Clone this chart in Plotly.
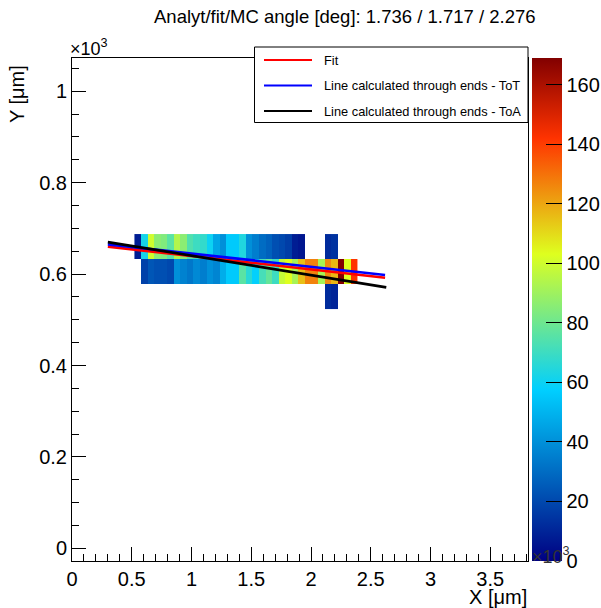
import plotly.graph_objects as go

# ---------------- data (µm; pixel pitch 55 µm) ----------------
PITCH_UM = 55.0
title_text = "Analyt/fit/MC angle [deg]: 1.736 / 1.717 / 2.276"

# row index (y = row*pitch), column indices, and counts per cell
row12_cols = list(range(10, 36)) + [39, 40]
row12_vals = [8, 62, 100, 86, 84, 76, 94, 86, 74, 70, 68, 60, 46, 40, 56, 56, 64,
              40, 35, 30, 27, 22, 20, 17, 8, 6, 12, 14]
row11_cols = list(range(11, 44))
row11_vals = [18, 24, 22, 22, 20, 40, 36, 33, 38, 35, 40, 37, 48, 56, 56, 76, 66,
              58, 72, 78, 70, 98, 103, 92, 115, 127, 127, 92, 125, 117, 169, 103, 142]
row10_cols = [39, 40]
row10_vals = [12, 10]

# straight lines (µm)
fit_x = [300, 2620]
fit_y = [660, 592]
tot_x = [300, 2620]
tot_y = [665, 598]
toa_x = [300, 2630]
toa_y = [670, 571]

legend_names = ["Fit", "Line calculated through ends - ToT", "Line calculated through ends - ToA"]
legend_colors = ["#ff0000", "#0000ff", "#000000"]

z_max = 169
cbar_ticks = [0, 20, 40, 60, 80, 100, 120, 140, 160]
x_ticks = [0, 0.5, 1, 1.5, 2, 2.5, 3, 3.5]
y_ticks = [0, 0.2, 0.4, 0.6, 0.8, 1]

# ---------------- build grid ----------------
rows = {12: (row12_cols, row12_vals), 11: (row11_cols, row11_vals), 10: (row10_cols, row10_vals)}
all_cols = sorted(set(row12_cols + row11_cols + row10_cols))
col_min, col_max = min(all_cols), max(all_cols)
col_idx = list(range(col_min, col_max + 1))
row_idx = sorted(rows.keys())
xs = [c * PITCH_UM / 1000 for c in col_idx]
ys = [r * PITCH_UM / 1000 for r in row_idx]
z = []
for r in row_idx:
    cols, vals = rows[r]
    lut = dict(zip(cols, vals))
    z.append([lut.get(c, None) for c in col_idx])

# ROOT-like rainbow palette
cscale = [
    [0.00, "rgb(0,0,130)"],
    [0.34, "rgb(0,207,255)"],
    [0.61, "rgb(222,255,31)"],
    [0.84, "rgb(255,51,0)"],
    [1.00, "rgb(130,0,0)"],
]

FONT = "Liberation Sans, Arial, Helvetica, sans-serif"
TICK_SIZE = 20

W, H = 601, 608
L, R, T, B = 72, 528, 58, 561  # frame in pixels


def px(xp):
    return (xp - L) / (R - L)


def py(yp):
    return (B - yp) / (B - T)


fig = go.Figure()
fig.add_trace(go.Heatmap(
    x=xs, y=ys, z=z, zmin=0, zmax=z_max, colorscale=cscale,
    hoverongaps=False, showscale=True,
    colorbar=dict(
        x=px(531.5), xanchor="left", xpad=0, ypad=0,
        y=0.5, yanchor="middle", len=1, lenmode="fraction",
        thickness=30, thicknessmode="pixels",
        outlinewidth=0,
        ticks="inside", ticklen=16, tickcolor="black", tickwidth=1,
        tickvals=cbar_ticks,
        tickfont=dict(family=FONT, size=TICK_SIZE, color="black"),
    ),
))

for lx, ly, name, col in [(fit_x, fit_y, legend_names[0], legend_colors[0]),
                           (tot_x, tot_y, legend_names[1], legend_colors[1]),
                           (toa_x, toa_y, legend_names[2], legend_colors[2])]:
    fig.add_trace(go.Scatter(
        x=[v / 1000 for v in lx], y=[v / 1000 for v in ly], mode="lines",
        line=dict(color=col, width=2.7), name=name, showlegend=False,
    ))

shapes = []
annotations = []

# legend box
shapes.append(dict(type="rect", xref="paper", yref="paper",
                   x0=px(254.5), x1=px(528), y0=py(122.5), y1=py(47),
                   line=dict(color="black", width=1), fillcolor="white", layer="above"))
for i, (name, col) in enumerate(zip(legend_names, legend_colors)):
    yy = [60, 85.5, 111][i]
    shapes.append(dict(type="line", xref="paper", yref="paper",
                       x0=px(264), x1=px(312), y0=py(yy), y1=py(yy),
                       line=dict(color=col, width=2), layer="above"))
    annotations.append(dict(text=name, xref="paper", yref="paper",
                            x=px(321.5), y=py(yy), xanchor="left", yanchor="middle",
                            showarrow=False, font=dict(family=FONT, size=12.8, color="black")))

# title
annotations.append(dict(text=title_text, xref="paper", yref="paper",
                        x=px(344.5), y=py(17), xanchor="center", yanchor="middle",
                        showarrow=False, font=dict(family=FONT, size=18.5, color="black")))
# axis titles
annotations.append(dict(text="Y [μm]", xref="paper", yref="paper",
                        x=px(17), y=py(63), xanchor="center", yanchor="top", textangle=-90,
                        showarrow=False, font=dict(family=FONT, size=20, color="black")))
annotations.append(dict(text="X [μm]", xref="paper", yref="paper",
                        x=px(529), y=py(597), xanchor="right", yanchor="middle",
                        showarrow=False, font=dict(family=FONT, size=20, color="black")))
# exponent labels
annotations.append(dict(text="×10<sup>3</sup>", xref="paper", yref="paper",
                        x=px(68), y=py(61), xanchor="left", yanchor="bottom",
                        showarrow=False, font=dict(family=FONT, size=18, color="black")))
annotations.append(dict(text="×10<sup>3</sup>", xref="paper", yref="paper",
                        x=px(530), y=py(569), xanchor="left", yanchor="bottom",
                        showarrow=False, font=dict(family=FONT, size=18, color="#333333")))

fig.update_layout(
    width=W, height=H,
    margin=dict(l=L, r=W - R, t=T, b=H - B, pad=0, autoexpand=False),
    paper_bgcolor="white", plot_bgcolor="white",
    font=dict(family=FONT, size=18, color="black"),
    showlegend=False,
    shapes=shapes, annotations=annotations,
    xaxis=dict(range=[0, (R - L) / 119.5], tickvals=x_ticks, ticks="inside", ticklen=14,
               automargin=False,
               tickcolor="black", tickwidth=1, showline=True, linecolor="black", linewidth=1,
               mirror=True, showgrid=False, zeroline=False,
               tickfont=dict(family=FONT, size=TICK_SIZE, color="black"),
               minor=dict(dtick=0.1, tick0=0, ticks="inside", ticklen=7, tickcolor="black",
                          showgrid=False)),
    yaxis=dict(range=[-0.0275, 1.0725], tickvals=y_ticks, ticks="inside", ticklen=14,
               automargin=False,
               tickcolor="black", tickwidth=1, showline=True, linecolor="black", linewidth=1,
               mirror=True, showgrid=False, zeroline=False,
               tickfont=dict(family=FONT, size=TICK_SIZE, color="black"),
               minor=dict(dtick=0.05, tick0=0, ticks="inside", ticklen=7, tickcolor="black",
                          showgrid=False)),
)

fig.write_html("out.html", config={"displayModeBar": False},
               post_script="document.body.style.margin='0';document.body.style.overflow='hidden';")
